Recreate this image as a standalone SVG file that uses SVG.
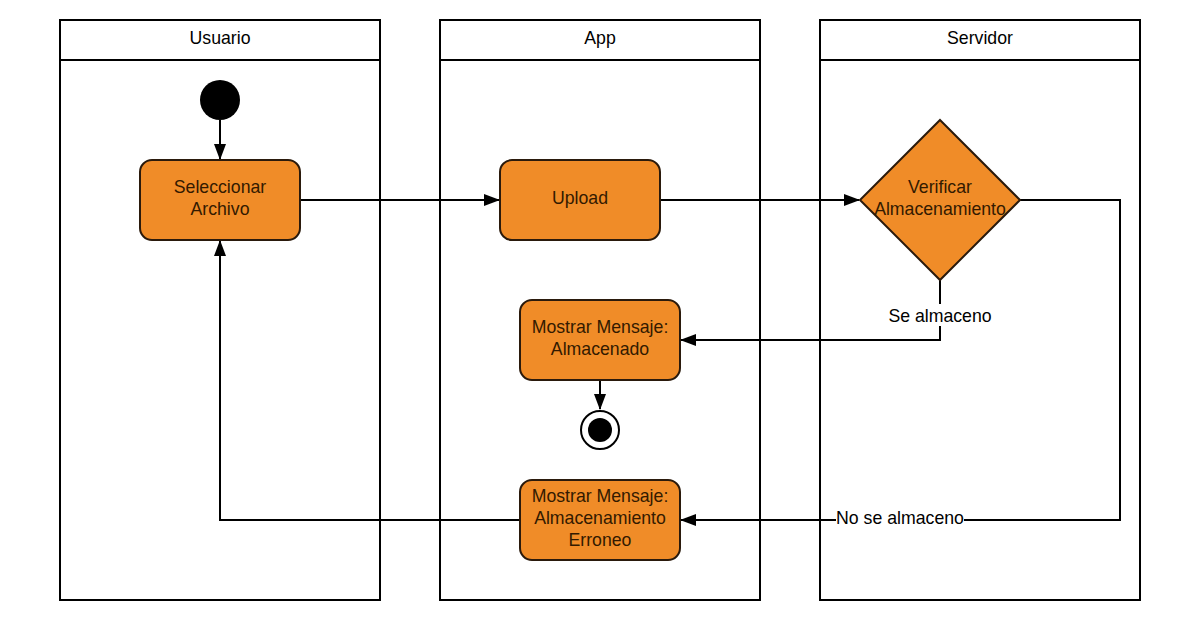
<svg xmlns="http://www.w3.org/2000/svg" width="1184" height="643" viewBox="0 0 1184 643">
<style>
.lane{fill:#fff;stroke:#000;stroke-width:2}
.hdr{font-family:"Liberation Sans",Arial,sans-serif;font-size:17.7px;fill:#000;text-anchor:middle}
.box{fill:#f08c28;stroke:#2a1a0c;stroke-width:2}
.lbl{font-family:"Liberation Sans",Arial,sans-serif;font-size:17.7px;fill:#331a00;text-anchor:middle}
.edge{fill:none;stroke:#000;stroke-width:2}
.elbl{font-family:"Liberation Sans",Arial,sans-serif;font-size:17.7px;fill:#000;text-anchor:middle}
</style>
<defs>
<marker id="arr" markerWidth="16" markerHeight="12" refX="15" refY="6" orient="auto" markerUnits="userSpaceOnUse">
<path d="M0,0 L16,6 L0,12 Z" fill="#000"/>
</marker>
</defs>
<rect width="1184" height="643" fill="#fff"/>
<g id="lane-usuario">
<rect class="lane" x="60" y="20" width="320" height="580"/>
<line x1="60" y1="60" x2="380" y2="60" stroke="#000" stroke-width="2"/>
<text class="hdr" x="220" y="44">Usuario</text>
</g>
<g id="lane-app">
<rect class="lane" x="440" y="20" width="320" height="580"/>
<line x1="440" y1="60" x2="760" y2="60" stroke="#000" stroke-width="2"/>
<text class="hdr" x="600" y="44">App</text>
</g>
<g id="lane-servidor">
<rect class="lane" x="820" y="20" width="320" height="580"/>
<line x1="820" y1="60" x2="1140" y2="60" stroke="#000" stroke-width="2"/>
<text class="hdr" x="980" y="44">Servidor</text>
</g>
<g id="connectors">
<line class="edge" x1="220" y1="120" x2="220" y2="159" marker-end="url(#arr)"/>
<line class="edge" x1="300" y1="200" x2="499" y2="200" marker-end="url(#arr)"/>
<line class="edge" x1="660" y1="200" x2="859" y2="200" marker-end="url(#arr)"/>
<polyline class="edge" points="940,280 940,340 681,340" marker-end="url(#arr)"/>
<polyline class="edge" points="1020,200 1120,200 1120,520 681,520" marker-end="url(#arr)"/>
<polyline class="edge" points="520,520 220,520 220,241" marker-end="url(#arr)"/>
<line class="edge" x1="600" y1="380" x2="600" y2="409" marker-end="url(#arr)"/>
<rect x="886" y="304" width="108" height="22" fill="#fff"/>
<text class="elbl" x="940" y="322">Se almaceno</text>
<rect x="836" y="508" width="128" height="22" fill="#fff"/>
<text class="elbl" x="900" y="524">No se almaceno</text>
</g>
<g id="start">
<circle cx="220" cy="100" r="20" fill="#000"/>
</g>
<g id="seleccionar">
<rect class="box" x="140" y="160" width="160" height="80" rx="12"/>
<text class="lbl" x="220" y="193">Seleccionar</text>
<text class="lbl" x="220" y="215">Archivo</text>
</g>
<g id="upload">
<rect class="box" x="500" y="160" width="160" height="80" rx="12"/>
<text class="lbl" x="580" y="204">Upload</text>
</g>
<g id="verificar">
<polygon class="box" points="940,120 1020,200 940,280 860,200"/>
<text class="lbl" x="940" y="193">Verificar</text>
<text class="lbl" x="940" y="215">Almacenamiento</text>
</g>
<g id="almacenado">
<rect class="box" x="520" y="300" width="160" height="80" rx="12"/>
<text class="lbl" x="600" y="333">Mostrar Mensaje:</text>
<text class="lbl" x="600" y="355">Almacenado</text>
</g>
<g id="end">
<circle cx="600" cy="430" r="19" fill="#fff" stroke="#000" stroke-width="2"/>
<circle cx="600" cy="430" r="12" fill="#000"/>
</g>
<g id="erroneo">
<rect class="box" x="520" y="480" width="160" height="80" rx="12"/>
<text class="lbl" x="600" y="502">Mostrar Mensaje:</text>
<text class="lbl" x="600" y="524">Almacenamiento</text>
<text class="lbl" x="600" y="546">Erroneo</text>
</g>
</svg>
